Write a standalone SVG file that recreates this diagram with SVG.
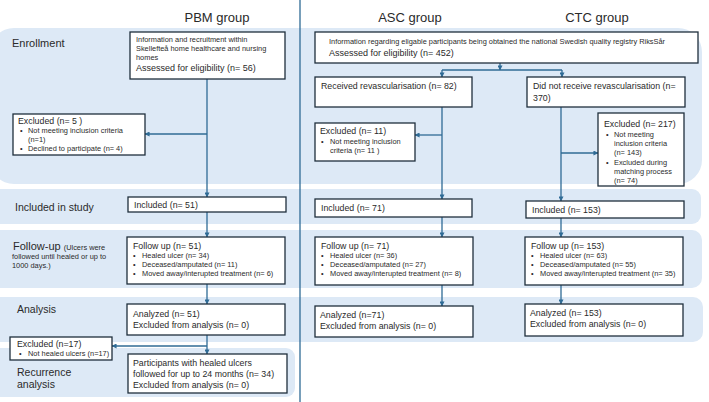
<svg xmlns="http://www.w3.org/2000/svg" width="709" height="402" viewBox="0 0 709 402">
<defs>
<marker id="ah" viewBox="0 0 6 6" refX="5.5" refY="3" markerWidth="5" markerHeight="5" markerUnits="userSpaceOnUse" orient="auto">
<path d="M0,0 L6,3 L0,6 z" fill="#2f6b95"/>
</marker>
<style>
.band{fill:#dde9f6}
.box{fill:#ffffff;stroke:#1f2f3c;stroke-width:1.3}
.con{fill:none;stroke:#2f6b95;stroke-width:1.3}
.con-a{fill:none;stroke:#2f6b95;stroke-width:1.3;marker-end:url(#ah)}
text{font-family:"Liberation Sans",Arial,sans-serif;fill:#2a2a2a}
.h{font-size:13px}
.lab{font-size:10.5px}
.s{font-size:7.4px}
.m{font-size:8.8px}
.l{font-size:9px}
</style>
</defs>

<g id="bands">
<rect class="band" x="-10" y="28" width="712" height="156" rx="24"/>
<rect class="band" x="-10" y="189" width="711" height="35" rx="9"/>
<rect class="band" x="-10" y="230" width="712" height="58" rx="10"/>
<rect class="band" x="-10" y="297" width="713" height="45" rx="10"/>
<rect class="band" x="-10" y="348" width="305" height="49" rx="9"/>
</g>

<g id="divider"><line x1="300" y1="0" x2="300" y2="402" stroke="#2f6b95" stroke-width="1.3"/></g>

<g id="headers">
<text class="h" x="217" y="22" text-anchor="middle">PBM group</text>
<text class="h" x="410" y="22" text-anchor="middle">ASC group</text>
<text class="h" x="597" y="22" text-anchor="middle">CTC group</text>
</g>

<g id="row-labels">
<text class="lab" x="12" y="47" style="font-size:11px">Enrollment</text>
<text class="lab" x="15" y="211">Included in study</text>
<text x="13" y="250"><tspan style="font-size:11px">Follow-up</tspan><tspan class="s" dx="3">(Ulcers were</tspan></text>
<text class="s" x="12" y="259">followed until healed or up to</text>
<text class="s" x="12" y="268">1000 days.)</text>
<text class="lab" x="17" y="313">Analysis</text>
<text class="lab" x="17" y="376">Recurrence</text>
<text class="lab" x="17" y="388">analysis</text>
</g>

<g id="connectors">
<line class="con" x1="207" y1="79" x2="207" y2="134"/>
<line class="con-a" x1="207" y1="134" x2="207" y2="197"/>
<line class="con-a" x1="207" y1="134" x2="145" y2="134"/>
<line class="con-a" x1="500" y1="63" x2="500" y2="70"/>
<line class="con" x1="442" y1="70" x2="562" y2="70"/>
<line class="con-a" x1="442" y1="70" x2="442" y2="77"/>
<line class="con-a" x1="562" y1="70" x2="562" y2="77"/>
<line class="con" x1="442" y1="107" x2="442" y2="135"/>
<line class="con-a" x1="442" y1="135" x2="442" y2="199"/>
<line class="con-a" x1="442" y1="135" x2="415" y2="135"/>
<line class="con" x1="561" y1="107" x2="561" y2="153"/>
<line class="con-a" x1="561" y1="153" x2="561" y2="201"/>
<line class="con-a" x1="561" y1="153" x2="598" y2="153"/>
<line class="con-a" x1="207" y1="212" x2="207" y2="237"/>
<line class="con-a" x1="442" y1="217" x2="442" y2="237"/>
<line class="con-a" x1="561" y1="218" x2="561" y2="237"/>
<line class="con-a" x1="207" y1="284" x2="207" y2="304"/>
<line class="con-a" x1="442" y1="285" x2="442" y2="306"/>
<line class="con-a" x1="561" y1="285" x2="561" y2="304"/>
<line class="con" x1="207" y1="335" x2="207" y2="346"/>
<line class="con-a" x1="207" y1="346" x2="207" y2="354"/>
<line class="con-a" x1="207" y1="346" x2="112" y2="346"/>
</g>

<g id="pbm-enroll">
<rect class="box" x="130" y="32" width="155" height="47"/>
<text class="s" x="136" y="42">Information and recruitment within</text>
<text class="s" x="136" y="51">Skellefteå home healthcare and nursing</text>
<text class="s" x="136" y="60">homes</text>
<text class="l" x="136" y="71">Assessed for eligibility (n= 56)</text>
</g>

<g id="pbm-excluded">
<rect class="box" x="13" y="114" width="132" height="41"/>
<text class="m" x="18" y="124">Excluded (n= 5 )</text>
<text class="s" x="20" y="133">•</text><text class="s" x="28" y="133">Not meeting inclusion criteria</text>
<text class="s" x="28" y="142">(n=1)</text>
<text class="s" x="20" y="151">•</text><text class="s" x="28" y="151">Declined to participate (n= 4)</text>
</g>

<g id="pbm-included">
<rect class="box" x="128" y="197" width="158" height="15"/>
<text class="m" x="134" y="208">Included (n= 51)</text>
</g>

<g id="pbm-followup">
<rect class="box" x="127" y="237" width="158" height="47"/>
<text class="m" x="133" y="249">Follow up (n= 51)</text>
<text class="s" x="133" y="258">•</text><text class="s" x="142" y="258">Healed ulcer (n= 34)</text>
<text class="s" x="133" y="267">•</text><text class="s" x="142" y="267">Deceased/amputated (n= 11)</text>
<text class="s" x="133" y="276">•</text><text class="s" x="142" y="276">Moved away/interupted treatment (n= 6)</text>
</g>

<g id="pbm-analysis">
<rect class="box" x="127" y="304" width="158" height="31"/>
<text class="m" x="133" y="317">Analyzed (n= 51)</text>
<text class="m" x="133" y="328">Excluded from analysis (n= 0)</text>
</g>

<g id="pbm-excluded17">
<rect class="box" x="10" y="337" width="102" height="23"/>
<text class="m" x="17" y="347">Excluded (n=17)</text>
<text class="s" x="19" y="356">•</text><text class="s" x="28" y="356">Not healed ulcers (n=17)</text>
</g>

<g id="pbm-recurrence">
<rect class="box" x="128" y="354" width="159" height="39"/>
<text class="m" x="133" y="366">Participants with healed ulcers</text>
<text class="m" x="133" y="377">followed for up to 24 months (n= 34)</text>
<text class="m" x="133" y="388">Excluded from analysis (n= 0)</text>
</g>

<g id="registry">
<rect class="box" x="315" y="32" width="383" height="31"/>
<text class="s" x="329" y="44">Information regarding eligable participants being obtained the national Swedish quality registry RiksSår</text>
<text class="l" x="329" y="56">Assessed for eligibility (n= 452)</text>
</g>

<g id="asc-revasc">
<rect class="box" x="315" y="77" width="157" height="30"/>
<text class="m" x="321" y="89">Received revascularisation (n= 82)</text>
</g>

<g id="ctc-norevasc">
<rect class="box" x="527" y="77" width="158" height="30"/>
<text class="m" x="533" y="89">Did not receive revascularisation (n=</text>
<text class="m" x="533" y="101">370)</text>
</g>

<g id="asc-excluded">
<rect class="box" x="315" y="123" width="100" height="38"/>
<text class="m" x="320" y="134">Excluded (n= 11)</text>
<text class="s" x="321" y="144">•</text><text class="s" x="330" y="144">Not meeting inclusion</text>
<text class="s" x="330" y="153">criteria (n= 11 )</text>
</g>

<g id="ctc-excluded">
<rect class="box" x="598" y="113" width="86" height="73"/>
<text class="m" x="604" y="127">Excluded (n= 217)</text>
<text class="s" x="606" y="137">•</text><text class="s" x="614" y="137">Not meeting</text>
<text class="s" x="614" y="146">inclusion criteria</text>
<text class="s" x="614" y="155">(n= 143)</text>
<text class="s" x="606" y="165">•</text><text class="s" x="614" y="165">Excluded during</text>
<text class="s" x="614" y="174">matching process</text>
<text class="s" x="614" y="183">(n= 74)</text>
</g>

<g id="asc-included">
<rect class="box" x="315" y="199" width="157" height="18"/>
<text class="m" x="321" y="211">Included (n= 71)</text>
</g>

<g id="ctc-included">
<rect class="box" x="526" y="201" width="158" height="17"/>
<text class="m" x="532" y="213">Included (n= 153)</text>
</g>

<g id="asc-followup">
<rect class="box" x="315" y="237" width="158" height="48"/>
<text class="m" x="321" y="249">Follow up (n= 71)</text>
<text class="s" x="321" y="258">•</text><text class="s" x="330" y="258">Healed ulcer (n= 36)</text>
<text class="s" x="321" y="267">•</text><text class="s" x="330" y="267">Deceased/amputated (n= 27)</text>
<text class="s" x="321" y="276">•</text><text class="s" x="330" y="276">Moved away/interupted treatment (n= 8)</text>
</g>

<g id="ctc-followup">
<rect class="box" x="525" y="237" width="158" height="48"/>
<text class="m" x="531" y="249">Follow up (n= 153)</text>
<text class="s" x="531" y="258">•</text><text class="s" x="540" y="258">Healed ulcer (n= 63)</text>
<text class="s" x="531" y="267">•</text><text class="s" x="540" y="267">Deceased/amputated (n= 55)</text>
<text class="s" x="531" y="276">•</text><text class="s" x="540" y="276">Moved away/interupted treatment (n= 35)</text>
</g>

<g id="asc-analysis">
<rect class="box" x="315" y="306" width="158" height="31"/>
<text class="m" x="320" y="318">Analyzed (n=71)</text>
<text class="m" x="320" y="329">Excluded from analysis (n= 0)</text>
</g>

<g id="ctc-analysis">
<rect class="box" x="525" y="304" width="158" height="32"/>
<text class="m" x="530" y="316">Analyzed (n= 153)</text>
<text class="m" x="530" y="327">Excluded from analysis (n= 0)</text>
</g>
</svg>
